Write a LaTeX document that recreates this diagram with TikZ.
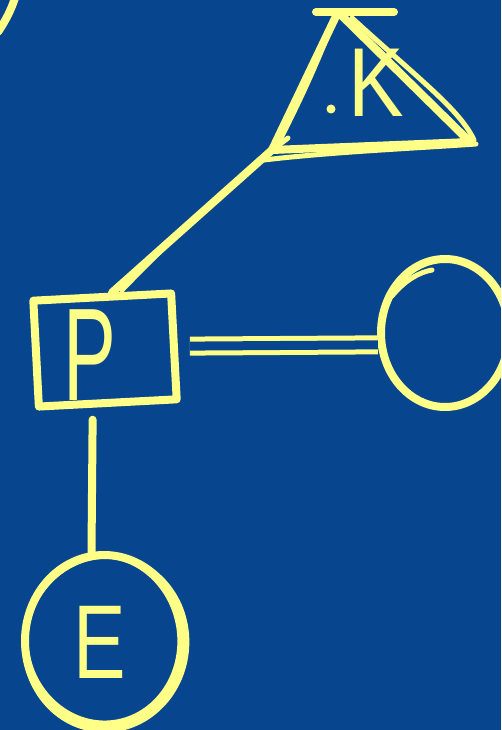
\documentclass[tikz,border=0pt]{standalone}
\usepackage{fontspec}
\setmainfont{Liberation Sans}
\usetikzlibrary{shapes.geometric,calc}
\definecolor{bgblue}{RGB}{7,70,143}
\definecolor{chalk}{RGB}{255,255,136}
\begin{document}
\begin{tikzpicture}[x=1pt,y=-1pt, line cap=round, line join=round,
  ink/.style={draw=chalk, line width=8pt},
  thinink/.style={draw=chalk, line width=5pt},
  lbl/.style={text=chalk, inner sep=0pt}]
\fill[bgblue] (0,0) rectangle (501,730);
\useasboundingbox (0,0) rectangle (501,730);
\begin{scope}
\clip (0,0) rectangle (501,730);
% partial arc top-left
\draw[ink] (-2,32) .. controls (6,20) and (11,10) .. (15,-2);
% triangle
\coordinate (apex) at (338,12);
\coordinate (tbl) at (272,150);
\coordinate (tbr) at (470,142);
\draw[ink] (316,12) -- (394,12);
\draw[ink] (apex) -- (tbl) -- (tbr) -- cycle;
\draw[thinink] (352,18) .. controls (420,80) and (460,110) .. (474,140);
\draw[thinink] (264,160) .. controls (330,152) and (420,148) .. (476,144);
\draw[thinink] (330,30) .. controls (310,80) and (295,110) .. (280,140);
\node[lbl, font=\fontsize{98}{98}\selectfont, xscale=0.85] (K) at (376,83) {K};
\fill[chalk] (331,109) circle (4.5pt);
% square P
\node[ink, rectangle, minimum width=138pt, minimum height=106pt, rotate=3] (sq) at (105,350) {};
\node[lbl, font=\fontsize{132}{132}\selectfont, xscale=0.6] (P) at (90,355) {P};
% connector triangle -> square
\draw[ink] (tbl) -- (sq.80);
\draw[thinink] (288,138) .. controls (240,175) and (180,230) .. (122,290);
% right circle
\node[ink, ellipse, minimum width=128pt, minimum height=148pt] (cR) at (445,333) {};
\draw[thinink] (392,296) .. controls (405,280) and (420,272) .. (432,270);
\draw[ink, double=bgblue, double distance=9pt, line width=5pt, line cap=butt, shorten <=12pt] (sq.east) -- (cR.190);
% E circle
\node[ink, ellipse, minimum width=158pt, minimum height=172pt] (cE) at (104,641) {};
\draw[thinink, rotate around={8:(104,641)}] (103,639) ellipse [x radius=77, y radius=84];
\draw[thinink, rotate around={-6:(104,641)}] (106,643) ellipse [x radius=81, y radius=87];
\node[lbl, font=\fontsize{105}{105}\selectfont, xscale=0.75] (E) at (100,642) {E};
% connector square -> E
\draw[ink, shorten <=12pt] (sq.-105) -- (cE.98);
\end{scope}
\end{tikzpicture}
\end{document}
